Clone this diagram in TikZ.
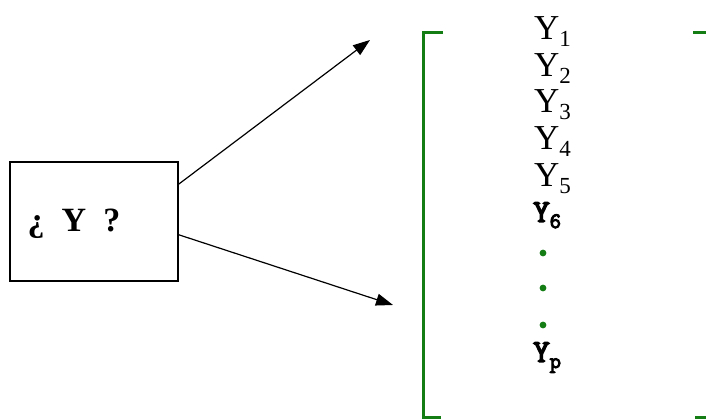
\documentclass[tikz,border=0pt]{standalone}
\usepackage{fontspec}
\setmainfont{Liberation Serif}
\newfontfamily\courfont[AutoFakeBold=4.5]{Latin Modern Mono}
\usetikzlibrary{arrows.meta, positioning, calc}

\definecolor{brgreen}{RGB}{20,125,20}

\newcommand{\yvar}[1]{\fontsize{35}{35}\selectfont Y\raisebox{-7pt}{\fontsize{23}{23}\selectfont #1}}
\newcommand{\ymono}[1]{\courfont\bfseries\fontsize{32}{32}\selectfont Y\raisebox{-6pt}{\fontsize{22}{22}\selectfont #1}}

\begin{document}
\begin{tikzpicture}[x=1pt, y=1pt]

  \useasboundingbox (0,0) rectangle (706,419);

  % Question box
  \node[draw, line width=1.2pt, minimum width=168pt, minimum height=119pt, inner sep=0pt]
    (qbox) at (94,197.5) {};
  \node[font=\bfseries\fontsize{34}{34}\selectfont] (qtext) at (74,195) {¿\ \ Y\ \ ?};

  % Arrow ends
  \coordinate (topend) at (370,379);
  \coordinate (botend) at (393,114);
  \draw[line width=1.2pt, -{Triangle[length=17pt,width=12pt]}]
    ($(qbox.north east)!0.19!(qbox.south east)$) -- (topend);
  \draw[line width=1.2pt, -{Triangle[length=17pt,width=12pt]}]
    ($(qbox.north east)!0.61!(qbox.south east)$) -- (botend);

  % Green bracket
  \draw[brgreen, line width=3pt] (443,386) -- (423,386) -- (423,1.5) -- (441,1.5);
  \draw[brgreen, line width=3pt] (693,386) -- (706,386);
  \draw[brgreen, line width=3pt] (695,1.5) -- (706,1.5);

  % Variables
  \foreach \k/\yb in {1/379, 2/342, 3/306, 4/269, 5/232} {
    \node[anchor=base west, inner sep=0pt] (y\k) at (534,\yb) {\yvar{\k}};
  }
  \node[anchor=base west, inner sep=0pt] (y6) at (533,197) {\ymono{6}};

  % Dots
  \foreach \yd in {166, 131, 94} {
    \fill[brgreen] (543,\yd) circle (3.4pt);
  }

  \node[anchor=base west, inner sep=0pt] (yp) at (533,57) {\ymono{p}};

\end{tikzpicture}
\end{document}
